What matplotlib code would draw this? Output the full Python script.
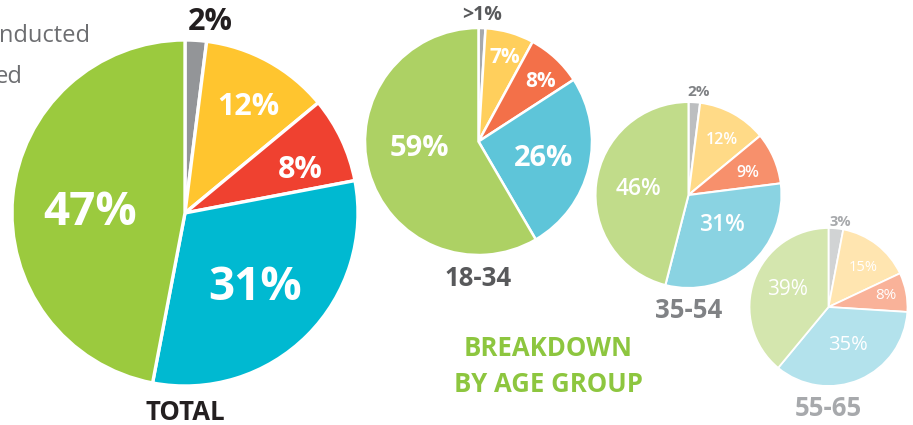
import numpy as np
import matplotlib
matplotlib.use("Agg")
import matplotlib.pyplot as plt

plt.rcParams['font.family'] = ['Open Sans', 'DejaVu Sans']

# ---------------- data ----------------
groups = ["TOTAL", "18-34", "35-54", "55-65"]
total_vals = [2, 12, 8, 31, 47]
age_18_34 = [1, 7, 8, 26, 59]
age_35_54 = [2, 12, 9, 31, 46]
age_55_65 = [3, 15, 8, 35, 39]
total_labels = ["2%", "12%", "8%", "31%", "47%"]
labels_18_34 = [">1%", "7%", "8%", "26%", "59%"]
labels_35_54 = ["2%", "12%", "9%", "31%", "46%"]
labels_55_65 = ["3%", "15%", "8%", "35%", "39%"]
series = [total_vals, age_18_34, age_35_54, age_55_65]
series_labels = [total_labels, labels_18_34, labels_35_54, labels_55_65]

# ---------------- styles / layout ----------------
W, H = 913, 425
colors = [
    ["#939598", "#FFC52F", "#EF4130", "#00B9D1", "#9BCA3E"],
    ["#A7A9AC", "#FFCF5C", "#F37049", "#5EC5D9", "#ADD164"],
    ["#BCBEC0", "#FFDA87", "#F7906C", "#8AD3E2", "#C1DC8A"],
    ["#D1D3D4", "#FFE5B0", "#F9B299", "#B3E2EC", "#D4E6AE"],
]
centers_px = [(185, 213), (478.5, 141.5), (688.5, 195), (828.5, 307)]
radii = [173, 113.5, 93, 79]
edge_lw = [2.4, 1.8, 1.5, 1.3]
# label placement: radial fraction and angular nudge per slice
label_frac = [
    [1.115, 0.71, 0.71, 0.59, 0.55],
    [1.115, 0.78, 0.76, 0.59, 0.52],
    [1.11, 0.69, 0.68, 0.48, 0.54],
    [1.09, 0.66, 0.74, 0.54, 0.56],
]
label_dtheta = [
    [-3.9, -2.0, -4.7, -1.6, 5.4],
    [0.0, -1.4, -3.6, -0.9, -8.8],
    [-2.2, -2.5, -3.1, 6.8, 0.2],
    [-2.3, -3.7, 1.0, 3.8, -3.0],
]
label_size = [
    [22, 22, 22, 33, 33],
    [14, 15, 15, 21, 21],
    [11, 11.5, 11.5, 16.5, 16.5],
    [10.5, 10.5, 11, 14.5, 15],
]
label_weight = ["bold", "bold", "semibold", "medium"]
outer_color = ["#231F20", "#58595B", "#808285", "#A7A9AC"]
group_color = ["#231F20", "#58595B", "#808285", "#A7A9AC"]
group_size = [18.5, 18.5, 18.5, 18.5]
group_label_gap = [199, 137, 115, 102]

fig = plt.figure(figsize=(W / 100, H / 100), dpi=100)
ax = fig.add_axes([0, 0, 1, 1])

for i, vals in enumerate(series):
    cx, cy = centers_px[i][0], H - centers_px[i][1]
    r = radii[i]
    wedges, _ = ax.pie(vals, colors=colors[i], startangle=90, counterclock=False,
                       center=(cx, cy), radius=r, frame=True,
                       wedgeprops=dict(edgecolor="white", linewidth=edge_lw[i]))
    for j, w in enumerate(wedges):
        th = np.deg2rad((w.theta1 + w.theta2) / 2 + label_dtheta[i][j])
        fr = label_frac[i][j]
        x = cx + fr * r * np.cos(th)
        y = cy + fr * r * np.sin(th)
        col = outer_color[i] if j == 0 else "white"
        ax.text(x, y, series_labels[i][j], ha="center", va="center",
                fontsize=label_size[i][j], color=col,
                fontweight="bold" if j == 0 else label_weight[i])
    ax.text(cx, cy - group_label_gap[i], groups[i], ha="center", va="center",
            fontsize=group_size[i], color=group_color[i], fontweight="bold")

ax.text(548, H - 348, "BREAKDOWN", ha="center", va="center", fontsize=18.5,
        color="#8DC63F", fontweight="bold")
ax.text(548, H - 384, "BY AGE GROUP", ha="center", va="center", fontsize=18.5,
        color="#8DC63F", fontweight="bold")

ax.text(90, H - 42, "nducted", ha="right", va="baseline", fontsize=17, color="#6D6E71")
ax.text(23, H - 83, "ed", ha="right", va="baseline", fontsize=17, color="#6D6E71")

ax.set_xlim(0, W)
ax.set_ylim(0, H)
ax.set_aspect("auto")
ax.axis("off")
fig.savefig("out.png", dpi=100)
